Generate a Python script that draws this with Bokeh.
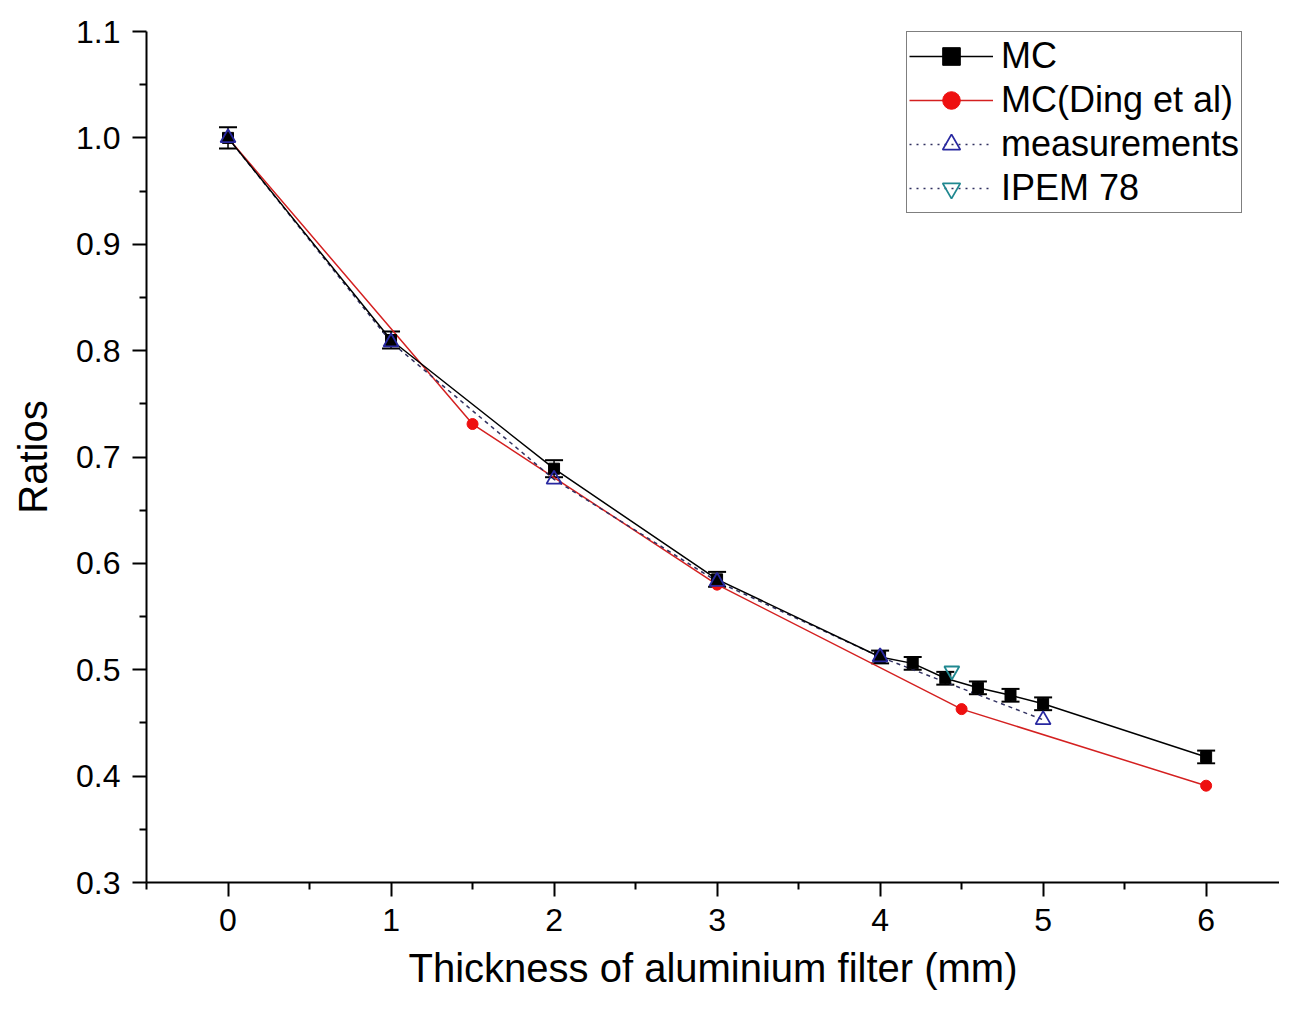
from bokeh.plotting import figure
from bokeh.models import (ColumnDataSource, FixedTicker, NumeralTickFormatter, Whisker,
                          TeeHead, Legend, LegendItem, Range1d)
from bokeh.embed import file_html
from bokeh.resources import INLINE

# ---- data ----
mc_x = [0, 1, 2, 3, 4, 4.2, 4.4, 4.6, 4.8, 5, 6]
mc_y = [1.0, 0.810, 0.689, 0.585, 0.512, 0.506, 0.492, 0.483, 0.476, 0.468, 0.418]
mc_err = [0.010, 0.008, 0.008, 0.007, 0.006, 0.006, 0.006, 0.006, 0.006, 0.006, 0.006]

ding_x = [0, 1.5, 3, 4.5, 6]
ding_y = [1.0, 0.731, 0.580, 0.463, 0.391]

meas_x = [0, 1, 2, 3, 4, 5]
meas_y = [1.0, 0.808, 0.679, 0.583, 0.512, 0.453]

ipem_x = [4.44]
ipem_y = [0.499]

x_ticks = [0, 1, 2, 3, 4, 5, 6]
x_minor = [-0.5, 0.5, 1.5, 2.5, 3.5, 4.5, 5.5]
y_ticks = [0.3, 0.4, 0.5, 0.6, 0.7, 0.8, 0.9, 1.0, 1.1]
y_minor = [0.35, 0.45, 0.55, 0.65, 0.75, 0.85, 0.95, 1.05]

FONT = "Liberation Sans"

p = figure(width=1279, height=993, output_backend="svg", toolbar_location=None,
           x_range=Range1d(-0.5, 6.45), y_range=Range1d(0.3, 1.1),
           min_border_left=146, min_border_right=0, min_border_top=31, min_border_bottom=111)
p.outline_line_color = None
p.xgrid.visible = False
p.ygrid.visible = False
p.background_fill_color = "white"
p.border_fill_color = "white"

for ax in (p.xaxis[0], p.yaxis[0]):
    ax.axis_line_width = 2
    ax.major_tick_line_width = 2
    ax.minor_tick_line_width = 2
    ax.major_tick_out = 14
    ax.major_tick_in = 0
    ax.minor_tick_out = 7
    ax.minor_tick_in = 0
    ax.major_label_text_font = FONT
    ax.major_label_text_font_size = "32px"
    ax.major_label_text_color = "black"
    ax.axis_label_text_font = FONT
    ax.axis_label_text_font_style = "normal"
    ax.axis_label_text_color = "black"

p.xaxis[0].ticker = FixedTicker(ticks=x_ticks, minor_ticks=x_minor)
p.yaxis[0].ticker = FixedTicker(ticks=y_ticks, minor_ticks=y_minor)
p.yaxis[0].formatter = NumeralTickFormatter(format="0.0")
p.xaxis[0].axis_label = "Thickness of aluminium filter (mm)"
p.yaxis[0].axis_label = "Ratios"
p.xaxis[0].axis_label_text_font_size = "40px"
p.yaxis[0].axis_label_text_font_size = "40px"
p.xaxis[0].major_label_standoff = 12
p.yaxis[0].major_label_standoff = 12
p.xaxis[0].axis_label_standoff = 12
p.yaxis[0].axis_label_standoff = 18

# ---- sources ----
mc_src = ColumnDataSource(dict(x=mc_x, y=mc_y,
                               lo=[a - e for a, e in zip(mc_y, mc_err)],
                               hi=[a + e for a, e in zip(mc_y, mc_err)]))
ding_src = ColumnDataSource(dict(x=ding_x, y=ding_y))
meas_src = ColumnDataSource(dict(x=meas_x, y=meas_y))
ipem_src = ColumnDataSource(dict(x=ipem_x, y=ipem_y))

# lines
ding_line = p.line("x", "y", source=ding_src, line_color="#d42020", line_width=1.5)
meas_line = p.line("x", "y", source=meas_src, line_color="#303060", line_width=1.5, line_dash="4 4")
mc_line = p.line("x", "y", source=mc_src, line_color="black", line_width=1.5)

# error bars
wh = Whisker(source=mc_src, base="x", lower="lo", upper="hi", line_color="black", line_width=1.5,
             upper_head=TeeHead(size=18, line_color="black", line_width=2),
             lower_head=TeeHead(size=18, line_color="black", line_width=2))
p.add_layout(wh)

# markers
ding_pts = p.scatter("x", "y", source=ding_src, marker="circle", size=11,
                     fill_color="#ee1010", line_color="#ee1010")
mc_pts = p.scatter("x", "y", source=mc_src, marker="square", size=11,
                   fill_color="black", line_color="black")
meas_pts = p.scatter("x", "y", source=meas_src, marker="triangle", size=15,
                     fill_color="white", fill_alpha=0.0, line_color="#2828a0", line_width=1.8)
ipem_pts = p.scatter("x", "y", source=ipem_src, marker="inverted_triangle", size=15,
                     fill_color="white", fill_alpha=0.0, line_color="#208890", line_width=1.8)

# legend glyph proxies (dotted lines for measurement and IPEM)
leg_meas_line = p.line([0], [0], line_color="#303060", line_width=1.5, line_dash="2 5", visible=False)
leg_ipem_line = p.line([0], [0], line_color="#303060", line_width=1.5, line_dash="2 5", visible=False)

legend = Legend(items=[
    LegendItem(label="MC", renderers=[mc_line, mc_pts]),
    LegendItem(label="MC(Ding et al)", renderers=[ding_line, ding_pts]),
    LegendItem(label="measurements", renderers=[leg_meas_line, meas_pts]),
    LegendItem(label="IPEM 78", renderers=[leg_ipem_line, ipem_pts]),
], location=(760, 669))
legend.label_text_font = FONT
legend.label_text_font_size = "36px"
legend.label_text_color = "black"
legend.glyph_width = 84
legend.glyph_height = 44
legend.label_height = 44
legend.spacing = 0
legend.padding = 2
legend.margin = 0
legend.label_standoff = 8
legend.border_line_color = "black"
legend.border_line_width = 1.5
legend.background_fill_alpha = 1.0
p.add_layout(legend)

html = file_html(p, INLINE)
open("out.html", "w").write(html)
